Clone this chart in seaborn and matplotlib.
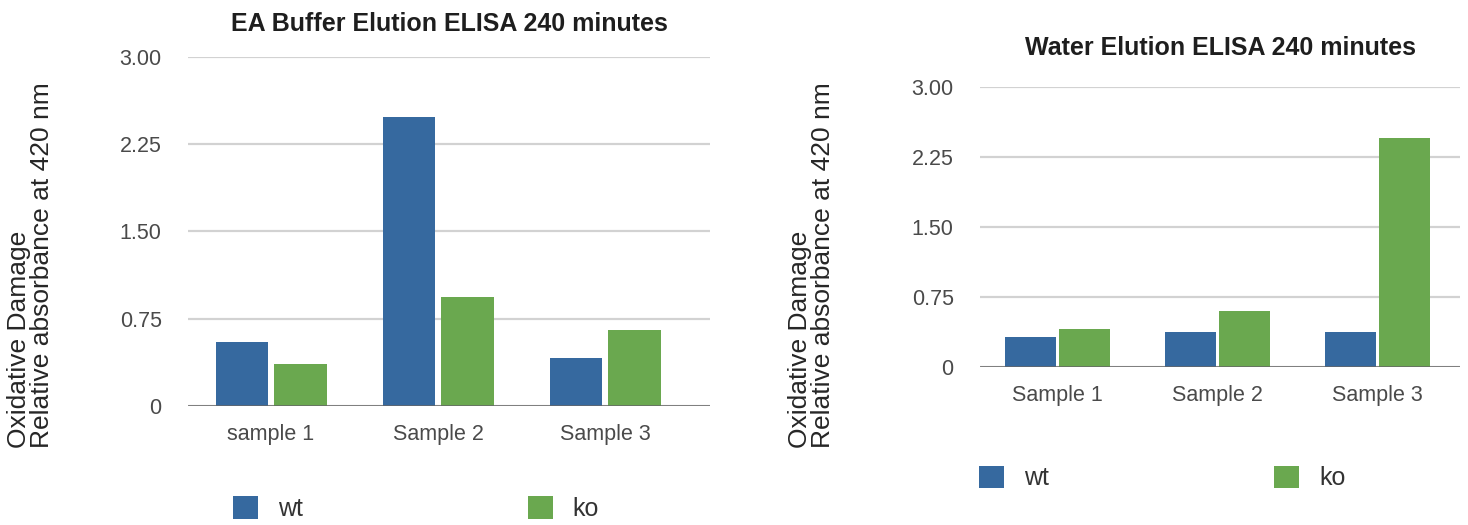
import pandas as pd
import matplotlib
matplotlib.use("Agg")
import matplotlib.pyplot as plt
import seaborn as sns

# values
samples_left = ["sample 1", "Sample 2", "Sample 3"]
samples_right = ["Sample 1", "Sample 2", "Sample 3"]
groups = ["wt", "ko"]
ea_wt = [0.55, 2.48, 0.41]
ea_ko = [0.36, 0.94, 0.65]
water_wt = [0.32, 0.38, 0.38]
water_ko = [0.41, 0.60, 2.45]
y_ticks = [0, 0.75, 1.50, 2.25, 3.00]
y_ticklabels = ["0", "0.75", "1.50", "2.25", "3.00"]

sns.set_theme(style="white")
plt.rcParams["font.family"] = ["Liberation Sans", "DejaVu Sans"]

colors = {"wt": "#36699f", "ko": "#6aa84f"}
ylabel = "Oxidative Damage\nRelative absorbance at 420 nm"


def make_df(samples, wt, ko):
    return pd.DataFrame({
        "sample": samples * 2,
        "group": ["wt"] * len(wt) + ["ko"] * len(ko),
        "value": wt + ko,
    })


fig = plt.figure(figsize=(14.68, 5.25), dpi=100)
ax1 = fig.add_axes([0.1281, 0.2267, 0.3556, 0.6648])
ax2 = fig.add_axes([0.6676, 0.3010, 0.3270, 0.5333])

panels = [
    (ax1, make_df(samples_left, ea_wt, ea_ko), "EA Buffer Elution ELISA 240 minutes",
     (-0.497, 2.629), 0.70, 0.10, 19, (0.1587, 0.0314)),
    (ax2, make_df(samples_right, water_wt, water_ko), "Water Elution ELISA 240 minutes",
     (-0.484, 2.516), 0.68, 0.07, 23, (0.6669, 0.0895)),
]

for ax, df, title, xlim, width, gap, tpad, leg_pos in panels:
    sns.barplot(data=df, x="sample", y="value", hue="group", hue_order=groups,
                palette=colors, width=width, gap=gap, saturation=1,
                linewidth=0, ax=ax)
    ax.set_xlim(*xlim)
    ax.set_ylim(0, 3.0)
    ax.set_yticks(y_ticks)
    ax.set_yticklabels(y_ticklabels)
    ax.set_axisbelow(True)
    ax.yaxis.grid(True, color="#d2d2d2", linewidth=1.6)
    ax.axhline(0, color="#666666", linewidth=1.8, zorder=5)
    for s in ax.spines.values():
        s.set_visible(False)
    ax.tick_params(axis="both", length=0, labelsize=15.5, labelcolor="#4a4a4a")
    ax.tick_params(axis="y", pad=19)
    ax.tick_params(axis="x", pad=13)
    ax.set_xlabel("")
    ax.set_ylabel("")
    ax.set_title(title, fontsize=18, fontweight="bold", color="#1e1e1e", pad=tpad)
    sns.move_legend(ax, "center left", bbox_to_anchor=leg_pos,
                    bbox_transform=fig.transFigure, ncol=2, title=None,
                    frameon=False, fontsize=18, handlelength=1.0,
                    handleheight=1.0, handletextpad=0.8, columnspacing=9,
                    borderpad=0, borderaxespad=0)
    for t in ax.get_legend().get_texts():
        t.set_color("#333333")

fig.text(0.0205, 0.495, ylabel, rotation=90, ha="center", va="center",
         fontsize=19, linespacing=0.95, multialignment="left")
fig.text(0.5530, 0.495, ylabel, rotation=90, ha="center", va="center",
         fontsize=19, linespacing=0.95, multialignment="left")

fig.savefig("out.png", dpi=100)
